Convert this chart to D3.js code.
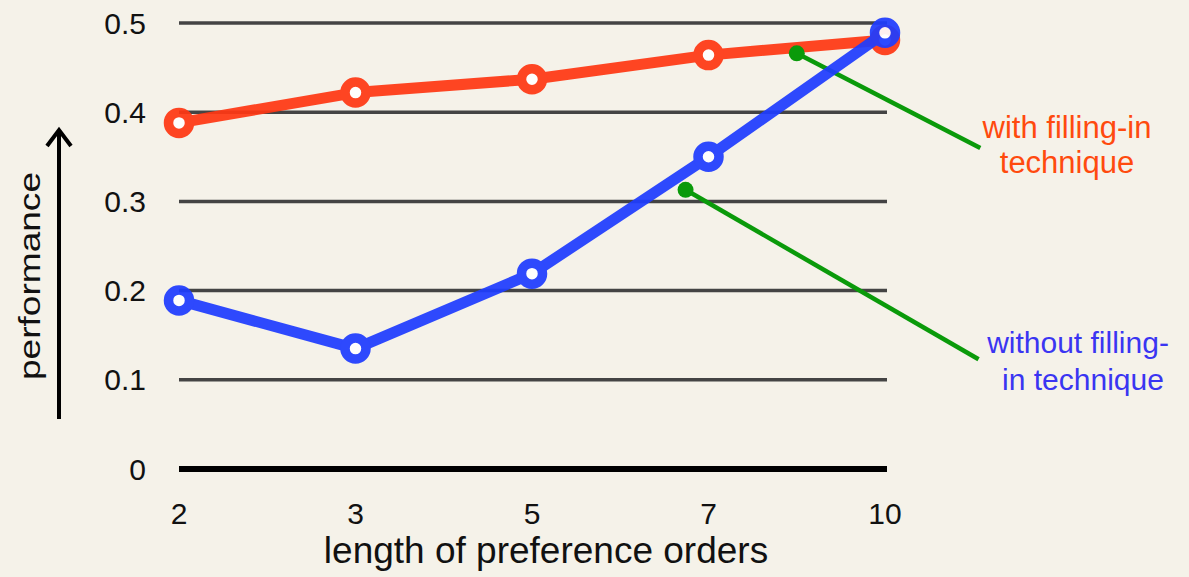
<!DOCTYPE html>
<html><head><meta charset="utf-8">
<script src="https://cdn.jsdelivr.net/npm/d3@7"></script>
<style>
html,body{margin:0;padding:0;background:#f5f2e9;}
svg{display:block;font-family:"Liberation Sans",Arial,Helvetica,sans-serif;}
</style></head>
<body><svg id="c" width="1189" height="577"></svg>
<script>
const categories = ["2","3","5","7","10"];
const withFilling = [0.388, 0.422, 0.437, 0.464, 0.481];
const withoutFilling = [0.189, 0.135, 0.219, 0.350, 0.489];
const yTicks = [0, 0.1, 0.2, 0.3, 0.4, 0.5];
const yTickLabels = ["0","0.1","0.2","0.3","0.4","0.5"];
// annotation pointers in (category index, value) space: [startIdx, startVal, endIdx, endVal]
const pointerWith = [3.5, 0.466, 4.54, 0.360];
const pointerWithout = [2.87, 0.313, 4.53, 0.123];

const svg = d3.select("#c");
const x = d3.scalePoint().domain(categories).range([179, 885]);
const xi = d3.scaleLinear().domain([0, categories.length - 1]).range([179, 885]);
const y = d3.scaleLinear().domain([0, 0.5]).range([469, 23]);

// grid lines
svg.append("g").selectAll("line").data(yTicks).join("line")
  .attr("x1", 179).attr("x2", 887)
  .attr("y1", d => y(d)).attr("y2", d => y(d))
  .attr("stroke", d => d === 0 ? "#000" : "#444")
  .attr("stroke-width", d => d === 0 ? 6 : 3.5);

// y tick labels
svg.append("g").selectAll("text").data(yTicks).join("text")
  .attr("x", 146).attr("y", d => y(d) + 10.5)
  .attr("text-anchor", "end").attr("font-size", 30).attr("fill", "#111")
  .text((d, i) => yTickLabels[i]);

// x tick labels
svg.append("g").selectAll("text").data(categories).join("text")
  .attr("x", d => x(d)).attr("y", 524)
  .attr("text-anchor", "middle").attr("font-size", 30).attr("fill", "#111")
  .text(d => d);

// axis titles
svg.append("text").attr("x", 546).attr("y", 563).attr("text-anchor", "middle")
  .attr("font-size", 37).attr("fill", "#111").text("length of preference orders");
svg.append("text").attr("transform", "translate(40,276) rotate(-90)")
  .attr("text-anchor", "middle").attr("font-size", 30).attr("fill", "#111")
  .attr("textLength", 208).attr("lengthAdjust", "spacingAndGlyphs")
  .text("performance");

// arrow
svg.append("line").attr("x1", 59).attr("x2", 59).attr("y1", 419).attr("y2", 132)
  .attr("stroke", "#000").attr("stroke-width", 4);
svg.append("path").attr("d", "M47,146 L59,130 L71,146").attr("fill", "none")
  .attr("stroke", "#000").attr("stroke-width", 4).attr("stroke-linejoin", "miter");

const line = d3.line().x((d, i) => x(categories[i])).y(d => y(d));

function series(vals, color) {
  const g = svg.append("g").attr("opacity", 0.93);
  g.append("path").datum(vals).attr("d", line).attr("fill", "none")
    .attr("stroke", color).attr("stroke-width", 11).attr("stroke-linejoin", "round");
  g.selectAll("circle").data(vals).join("circle")
    .attr("cx", (d, i) => x(categories[i])).attr("cy", d => y(d))
    .attr("r", 10.5).attr("fill", "#fff").attr("stroke", color).attr("stroke-width", 9.5);
  return g;
}

series(withFilling, "#ff3814");

// pointers
const green = "#0a9a0a";
[pointerWith, pointerWithout].forEach(p => {
  svg.append("line").attr("x1", xi(p[0])).attr("y1", y(p[1]))
    .attr("x2", xi(p[2])).attr("y2", y(p[3]))
    .attr("stroke", green).attr("stroke-width", 4.5);
  svg.append("circle").attr("cx", xi(p[0])).attr("cy", y(p[1])).attr("r", 8).attr("fill", green);
});

series(withoutFilling, "#1f3dff");

// labels
const lab1 = svg.append("text").attr("text-anchor", "middle").attr("font-size", 31).attr("fill", "#ff4a0e");
lab1.append("tspan").attr("x", 1067).attr("y", 138).text("with filling-in");
lab1.append("tspan").attr("x", 1067).attr("y", 173).text("technique");
const lab2 = svg.append("text").attr("text-anchor", "middle").attr("font-size", 30).attr("fill", "#3a35f2");
lab2.append("tspan").attr("x", 1078).attr("y", 353).text("without filling-");
lab2.append("tspan").attr("x", 1083).attr("y", 390).text("in technique");
</script></body></html>
